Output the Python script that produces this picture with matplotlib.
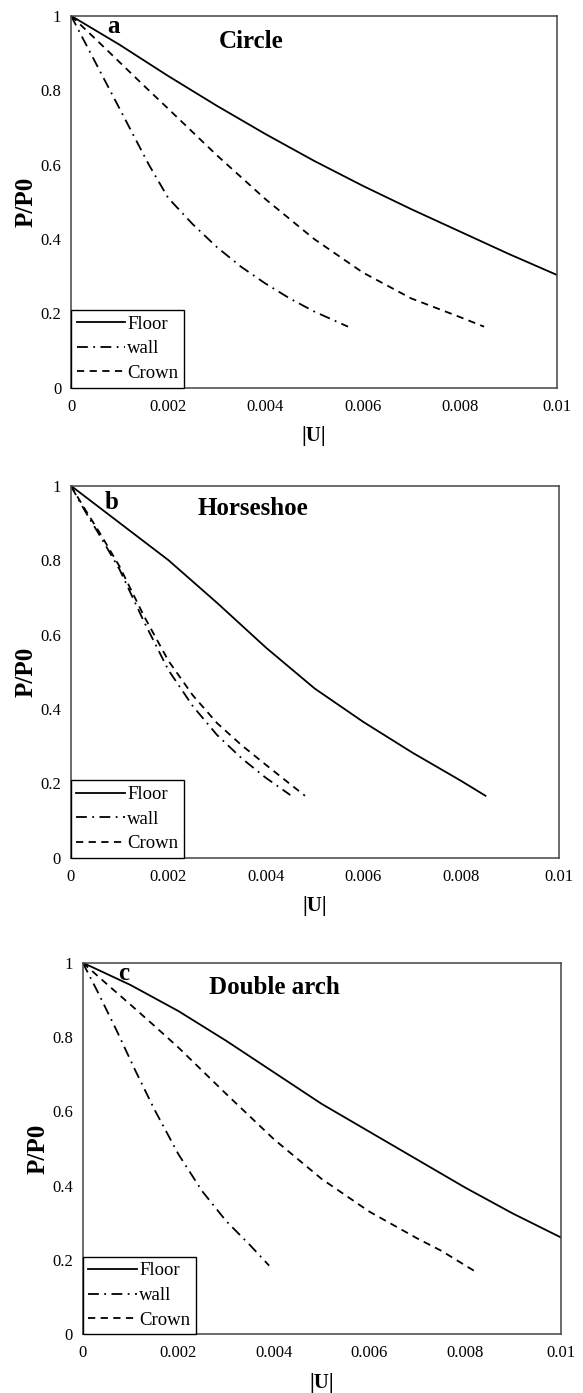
import matplotlib
matplotlib.use('Agg')
import matplotlib.pyplot as plt

plt.rcParams['font.family'] = ['Liberation Serif', 'DejaVu Serif']

# Panel titles and letters
panel_letters = ['a', 'b', 'c']
panel_titles = ['Circle', 'Horseshoe', 'Double arch']
series_names = ['Floor', 'wall', 'Crown']

x_ticks = [0, 0.002, 0.004, 0.006, 0.008, 0.01]
x_tick_labels = ['0', '0.002', '0.004', '0.006', '0.008', '0.01']
y_ticks = [0, 0.2, 0.4, 0.6, 0.8, 1.0]
y_tick_labels = ['0', '0.2', '0.4', '0.6', '0.8', '1']

# (a) Circle
circle_floor_u = [0, 0.001, 0.002, 0.003, 0.004, 0.005, 0.006, 0.007, 0.008, 0.009, 0.010]
circle_floor_p = [1.0, 0.922, 0.838, 0.758, 0.682, 0.61, 0.543, 0.48, 0.42, 0.36, 0.303]
circle_wall_u = [0, 0.0004, 0.0008, 0.0012, 0.0016, 0.002, 0.0025, 0.003, 0.0035, 0.004, 0.0045, 0.005, 0.0057]
circle_wall_p = [1.0, 0.90, 0.80, 0.70, 0.60, 0.51, 0.44, 0.378, 0.325, 0.28, 0.24, 0.205, 0.164]
circle_crown_u = [0, 0.0005, 0.001, 0.0015, 0.002, 0.003, 0.004, 0.005, 0.006, 0.007, 0.008, 0.0085]
circle_crown_p = [1.0, 0.938, 0.875, 0.812, 0.75, 0.625, 0.507, 0.4, 0.31, 0.24, 0.19, 0.164]

# (b) Horseshoe
horse_floor_u = [0, 0.001, 0.002, 0.003, 0.004, 0.005, 0.006, 0.007, 0.008, 0.0085]
horse_floor_p = [1.0, 0.9, 0.8, 0.685, 0.565, 0.455, 0.365, 0.283, 0.207, 0.167]
horse_wall_u = [0, 0.0003, 0.0006, 0.001, 0.0015, 0.002, 0.0025, 0.003, 0.0035, 0.004, 0.0045]
horse_wall_p = [1.0, 0.93, 0.865, 0.775, 0.635, 0.505, 0.408, 0.33, 0.268, 0.215, 0.169]
horse_crown_u = [0, 0.0003, 0.0006, 0.001, 0.0015, 0.002, 0.0025, 0.003, 0.0035, 0.004, 0.0045, 0.0048]
horse_crown_p = [1.0, 0.935, 0.872, 0.783, 0.65, 0.53, 0.437, 0.362, 0.303, 0.25, 0.198, 0.167]

# (c) Double arch
arch_floor_u = [0, 0.001, 0.002, 0.003, 0.004, 0.005, 0.006, 0.007, 0.008, 0.009, 0.010]
arch_floor_p = [1.0, 0.94, 0.87, 0.79, 0.705, 0.62, 0.545, 0.47, 0.395, 0.325, 0.261]
arch_wall_u = [0, 0.0003, 0.0007, 0.0011, 0.0015, 0.002, 0.0025, 0.003, 0.0035, 0.0039]
arch_wall_p = [1.0, 0.925, 0.82, 0.71, 0.605, 0.485, 0.385, 0.305, 0.24, 0.185]
arch_crown_u = [0, 0.0005, 0.001, 0.0015, 0.002, 0.003, 0.004, 0.005, 0.006, 0.007, 0.0075, 0.0082]
arch_crown_p = [1.0, 0.943, 0.887, 0.83, 0.772, 0.647, 0.525, 0.418, 0.33, 0.258, 0.225, 0.17]

panels = [
    [(circle_floor_u, circle_floor_p), (circle_wall_u, circle_wall_p), (circle_crown_u, circle_crown_p)],
    [(horse_floor_u, horse_floor_p), (horse_wall_u, horse_wall_p), (horse_crown_u, horse_crown_p)],
    [(arch_floor_u, arch_floor_p), (arch_wall_u, arch_wall_p), (arch_crown_u, arch_crown_p)],
]

# axes rectangles in figure fractions
rects = [
    [0.1218, 0.7217, 0.8336, 0.2670],
    [0.1213, 0.3841, 0.8370, 0.2673],
    [0.1419, 0.0421, 0.8199, 0.2668],
]
title_pos = [(0.371, 0.93), (0.373, 0.939), (0.401, 0.933)]
letter_pos = [(0.088, 0.972), (0.084, 0.955), (0.086, 0.972)]

styles = [
    dict(linestyle='-'),
    dict(linestyle=(0, (6, 3, 1, 3))),
    dict(linestyle=(0, (4, 3))),
]

fig = plt.figure(figsize=(5.83, 13.93), dpi=100)

for i in range(3):
    ax = fig.add_axes(rects[i])
    for (u, p), name, st in zip(panels[i], series_names, styles):
        ax.plot(u, p, color='black', linewidth=1.3, label=name, **st)

    ax.set_xlim(0, 0.01)
    ax.set_ylim(0, 1)
    ax.set_xticks(x_ticks)
    ax.set_xticklabels(x_tick_labels)
    ax.set_yticks(y_ticks)
    ax.set_yticklabels(y_tick_labels)
    ax.tick_params(length=0, labelsize=12, pad=8)
    ax.tick_params(axis='y', pad=7)
    for sp in ax.spines.values():
        sp.set_color('#444444')
        sp.set_linewidth(1.1)

    ax.set_xlabel('|U|', fontsize=15, fontweight='bold', labelpad=8)
    ax.set_ylabel('P/P0', fontsize=18, fontweight='bold', labelpad=2)

    ax.text(*letter_pos[i], panel_letters[i], transform=ax.transAxes,
            fontsize=18, fontweight='bold', ha='center', va='center')
    ax.text(*title_pos[i], panel_titles[i], transform=ax.transAxes,
            fontsize=18, fontweight='bold', ha='center', va='center')

    leg = ax.legend(loc='lower left', bbox_to_anchor=(0, 0), borderaxespad=0,
                    fontsize=13.5, handlelength=2.6, handletextpad=0.1,
                    labelspacing=0.4, borderpad=0.3, fancybox=False,
                    framealpha=1)
    leg.get_frame().set_edgecolor('black')
    leg.get_frame().set_linewidth(1.0)

fig.savefig('out.png', dpi=100)
